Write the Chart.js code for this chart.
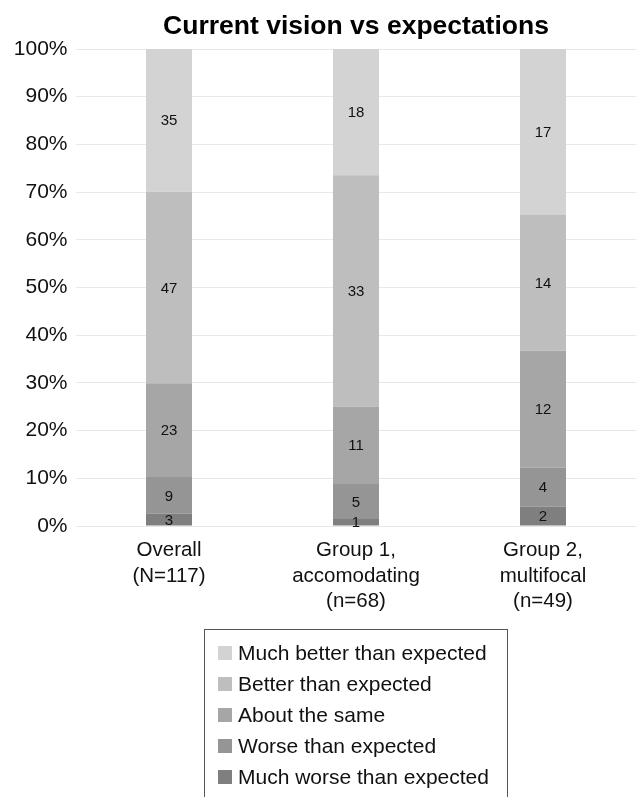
<!DOCTYPE html>
<html>
<head>
<meta charset="utf-8">
<script src="https://cdn.jsdelivr.net/npm/chart.js@4/dist/chart.umd.min.js"></script>
<style>
  html, body { margin: 0; padding: 0; background: #fff; }
  body { width: 639px; height: 797px; overflow: hidden; position: relative; }
  #wrap { position: absolute; left: 0; top: 0; width: 639px; height: 797px; }
  #chart { display: block; width: 639px; height: 797px; }
  #legend {
    position: absolute; left: 204px; top: 629px; width: 304px; height: 220px;
    border: 1px solid #555; box-sizing: border-box; padding-top: 7px;
    font-family: "Liberation Sans", Arial, sans-serif; font-size: 21px; color: #111;
  }
  #legend .row { height: 31px; display: flex; align-items: center; padding-left: 13px; white-space: nowrap; }
  #legend .sw { width: 14px; height: 14px; margin-right: 6px; flex: none; }
</style>
</head>
<body>
<div id="wrap"><canvas id="chart" width="639" height="797"></canvas></div>
<div id="legend"></div>
<script>
// ---------- DATA ----------
const TITLE = "Current vision vs expectations";
const CATEGORIES = [
  ["Overall", "(N=117)"],
  ["Group 1,", "accomodating", "(n=68)"],
  ["Group 2,", "multifocal", "(n=49)"]
];
const SERIES = [
  "Much worse than expected",
  "Worse than expected",
  "About the same",
  "Better than expected",
  "Much better than expected"
];
const MUCH_WORSE = [3, 1, 2];
const WORSE = [9, 5, 4];
const SAME = [23, 11, 12];
const BETTER = [47, 33, 14];
const MUCH_BETTER = [35, 18, 17];
const COLORS = ["#7f7f7f", "#959595", "#a6a6a6", "#bebebe", "#d3d3d3"];

const COUNTS = [MUCH_WORSE, WORSE, SAME, BETTER, MUCH_BETTER];
const TOTALS = CATEGORIES.map((_, i) => COUNTS.reduce((a, s) => a + s[i], 0));

const FONT = '"Liberation Sans", Arial, sans-serif';

// ---------- PLUGINS ----------
const titlePlugin = {
  id: "centerTitle",
  afterDraw(chart) {
    const { ctx, chartArea } = chart;
    ctx.save();
    ctx.font = "bold 26.5px " + FONT;
    ctx.fillStyle = "#000";
    ctx.textAlign = "center";
    ctx.textBaseline = "alphabetic";
    ctx.fillText(TITLE, (chartArea.left + chartArea.right) / 2, 34);
    ctx.restore();
  }
};

const valueLabels = {
  id: "valueLabels",
  afterDatasetsDraw(chart) {
    const { ctx } = chart;
    ctx.save();
    ctx.font = "15px " + FONT;
    ctx.fillStyle = "#111";
    ctx.textAlign = "center";
    ctx.textBaseline = "middle";
    chart.data.datasets.forEach((ds, di) => {
      const meta = chart.getDatasetMeta(di);
      meta.data.forEach((bar, i) => {
        const p = bar.getCenterPoint();
        ctx.fillText(String(ds.counts[i]), p.x, p.y + 1);
      });
    });
    ctx.restore();
  }
};

const htmlLegend = {
  id: "htmlLegend",
  afterUpdate(chart) {
    const box = document.getElementById("legend");
    box.innerHTML = "";
    chart.data.datasets.slice().reverse().forEach(ds => {
      const row = document.createElement("div");
      row.className = "row";
      const sw = document.createElement("span");
      sw.className = "sw";
      sw.style.background = ds.backgroundColor;
      const txt = document.createElement("span");
      txt.textContent = ds.label;
      row.appendChild(sw);
      row.appendChild(txt);
      box.appendChild(row);
    });
  }
};

// ---------- CHART ----------
new Chart(document.getElementById("chart"), {
  type: "bar",
  data: {
    labels: CATEGORIES,
    datasets: SERIES.map((name, si) => ({
      label: name,
      counts: COUNTS[si],
      data: COUNTS[si].map((v, i) => v / TOTALS[i] * 100),
      backgroundColor: COLORS[si],
      borderWidth: 0,
      categoryPercentage: 1,
      barPercentage: 0.246
    }))
  },
  options: {
    responsive: false,
    maintainAspectRatio: false,
    animation: false,
    devicePixelRatio: 1,
    layout: { padding: { top: 49, right: 2.5, left: 0, bottom: 0 } },
    plugins: {
      legend: { display: false },
      title: { display: false },
      tooltip: { enabled: false }
    },
    scales: {
      x: {
        stacked: true,
        grid: { display: false },
        border: { display: false },
        ticks: { color: "#111", font: { family: FONT, size: 20.5, lineHeight: 1.24 }, padding: 4, maxRotation: 0, autoSkip: false },
        afterFit(s) { s.height = 271; }
      },
      y: {
        stacked: true,
        min: 0,
        max: 100,
        grid: { color: "#e8e8e8", lineWidth: 1, drawTicks: false },
        border: { display: false },
        ticks: { stepSize: 10, color: "#111", padding: 8, font: { family: FONT, size: 21 }, callback: v => v + "%" },
        afterFit(s) { s.width = 75.5; }
      }
    }
  },
  plugins: [titlePlugin, valueLabels, htmlLegend]
});
</script>
</body>
</html>
